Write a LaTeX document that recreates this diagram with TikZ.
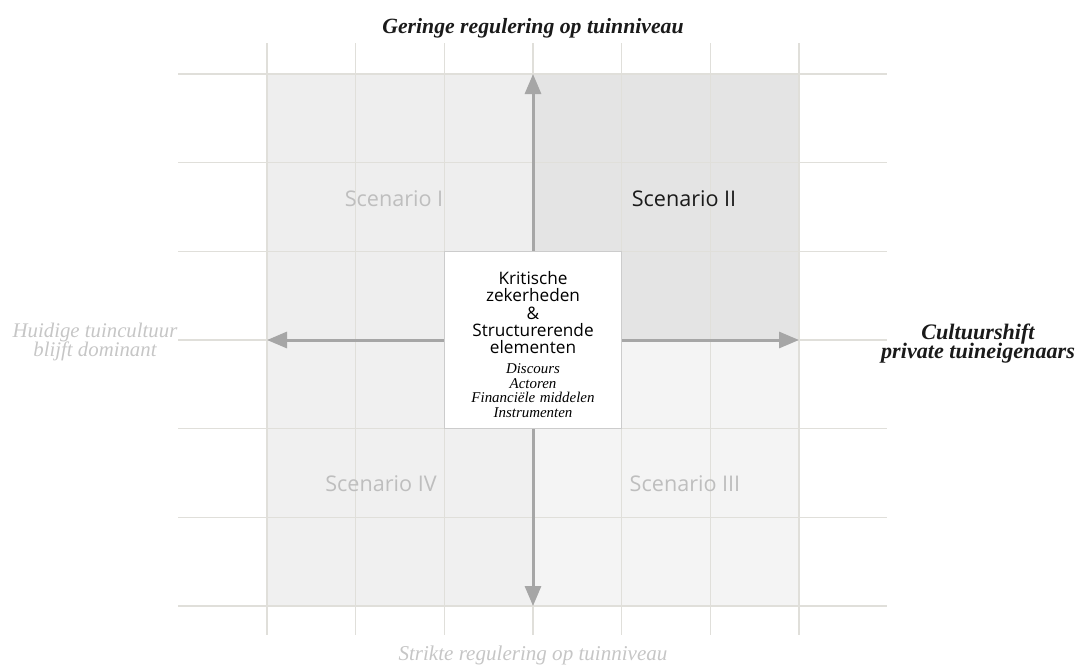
\documentclass[tikz,border=0pt]{standalone}
\usepackage{fontspec}
\setmainfont{Liberation Serif}
\newfontfamily\scenfont{Open Sans}
\usetikzlibrary{arrows.meta}
\definecolor{gridc}{HTML}{E0DFDA}
\definecolor{qtl}{HTML}{EEEEEE}
\definecolor{qtr}{HTML}{E4E4E4}
\definecolor{qbl}{HTML}{F0F0F0}
\definecolor{qbr}{HTML}{F4F4F4}
\definecolor{axisc}{HTML}{A6A6A6}
\definecolor{faint}{HTML}{BEBEBE}
\definecolor{faintlabel}{HTML}{C6C6C6}
\definecolor{ink}{HTML}{1A1A1A}
\definecolor{boxline}{HTML}{CCCCCC}
\newcommand\tightlines{\lineskiplimit=-20pt\relax}

\begin{document}
\begin{tikzpicture}[x=0.75pt,y=-0.75pt,
  gridline/.style={draw=gridc,line width=1.1pt},
  axis/.style={draw=axisc,line width=2.25pt,
    {Triangle[length=15pt,width=12pt]}-{Triangle[length=15pt,width=12pt]}},
  scenlabel/.style={font=\scenfont\fontsize{16.2pt}{19pt}\selectfont,
    anchor=base,inner sep=0pt},
  axislabel/.style={align=center,inner sep=0pt}
]
% canvas
\path[use as bounding box] (0,0) rectangle (1080,664);

% quadrant shading
\fill[qtl] (267,74) rectangle (533,340);
\fill[qtr] (533,74) rectangle (799,340);
\fill[qbl] (267,340) rectangle (533,606);
\fill[qbr] (533,340) rectangle (799,606);

% background grid
\foreach \i in {0,...,6}{
  \draw[gridline] ({267+88.667*\i},43) -- ({267+88.667*\i},635);
  \draw[gridline] (178,{74+88.667*\i}) -- (887,{74+88.667*\i});
}

% scenario names
\node[scenlabel,text=faint] (s1) at (394,206) {Scenario I};
\node[scenlabel,text=ink]   (s2) at (684,206) {Scenario II};
\node[scenlabel,text=faint] (s3) at (685,491) {Scenario III};
\node[scenlabel,text=faint] (s4) at (381,491) {Scenario IV};

% axes
\coordinate (ytop) at (533,74);
\coordinate (ybot) at (533,606);
\coordinate (xleft) at (267,340);
\coordinate (xright) at (799,340);
\draw[axis] (ybot) -- (ytop);
\draw[axis] (xleft) -- (xright);

% central box
\node[draw=boxline,fill=white,line width=1.1pt,inner sep=0pt,
      minimum width=133pt,minimum height=133pt] (core) at (533,340) {};
\node[anchor=north,text width=130pt,align=center,inner sep=0pt] (coretext) at (533,271) {%
  {\scenfont\fontsize{12.9pt}{13pt}\selectfont\tightlines
   Kritische\\zekerheden\\\&\\Structurerende\\elementen\par}
  \vspace{4.1pt}
  {\itshape\fontsize{11.2pt}{10.9pt}\selectfont\tightlines
   Discours\\Actoren\\Financiële middelen\\Instrumenten\par}};

% axis end labels
\node[font=\bfseries\itshape\fontsize{16.3pt}{19pt}\selectfont,text=ink,
      anchor=base,inner sep=0pt] (toptxt) at (533,33) {Geringe regulering op tuinniveau};
\node[font=\itshape\fontsize{15.8pt}{19pt}\selectfont,text=faintlabel,
      anchor=base,inner sep=0pt] (bottxt) at (533,660) {Strikte regulering op tuinniveau};
\node[axislabel,font={\itshape\fontsize{15.6pt}{14.25pt}\selectfont\tightlines},
      text=faintlabel] (lefttxt) at (95,342) {Huidige tuincultuur\\blijft dominant};
\node[axislabel,font={\bfseries\itshape\fontsize{16.6pt}{14.8pt}\selectfont\tightlines},
      text=ink] (righttxt) at (978,343.5) {Cultuurshift\\private tuineigenaars};
\end{tikzpicture}
\end{document}
